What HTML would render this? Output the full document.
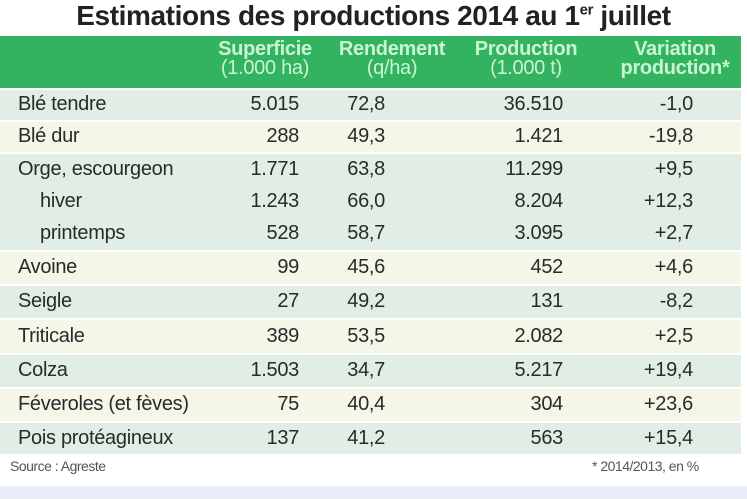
<!DOCTYPE html>
<html><head><meta charset="utf-8"><style>
body{margin:0;width:747px;height:499px;background:#fff;position:relative;overflow:hidden;font-family:"Liberation Sans",sans-serif;color:#2a2a2a}
.t{position:absolute;left:0;top:0px;width:747px;text-align:center;font-weight:bold;font-size:28px;letter-spacing:-0.4px;color:#222}
.hd{position:absolute;left:0;top:36px;width:741px;height:52px;background:#33b25f}
.h{position:absolute;text-align:center;color:#c9f5d4;font-size:20px;line-height:19px;letter-spacing:-0.3px}
.h b{display:block}
.row{position:absolute;left:0;width:741px}
.c{position:absolute;font-size:20px;letter-spacing:-0.3px;white-space:nowrap}
.r{text-align:right}
.foot{position:absolute;font-size:14px;color:#555;letter-spacing:-0.5px}
</style></head><body>
<div class="t">Estimations des productions 2014 au 1<sup style="font-size:15px">er</sup> juillet</div>
<div class="hd">
<div class="h" style="left:200px;width:130px;top:4px"><b>Superficie</b>(1.000 ha)</div>
<div class="h" style="left:322px;width:140px;top:4px"><b>Rendement</b>(q/ha)</div>
<div class="h" style="left:458px;width:136px;top:4px"><b>Production</b>(1.000 t)</div>
<div class="h" style="left:610px;width:130px;top:4px"><b>Variation</b><b>production*</b></div>
</div>
<div id="rows"></div>
<div class="foot" style="left:10px;top:458px">Source : Agreste</div>
<div class="foot" style="left:592px;top:458px">* 2014/2013, en %</div>
<div style="position:absolute;left:0;top:486px;width:747px;height:13px;background:#e9ebf7"></div>
<script>
const labels=["Blé tendre","Blé dur","Orge, escourgeon","hiver","printemps","Avoine","Seigle","Triticale","Colza","Féveroles (et fèves)","Pois protéagineux"];
const superficie=["5.015","288","1.771","1.243","528","99","27","389","1.503","75","137"];
const rendement=["72,8","49,3","63,8","66,0","58,7","45,6","49,2","53,5","34,7","40,4","41,2"];
const production=["36.510","1.421","11.299","8.204","3.095","452","131","2.082","5.217","304","563"];
const variation=["-1,0","-19,8","+9,5","+12,3","+2,7","+4,6","-8,2","+2,5","+19,4","+23,6","+15,4"];
const tops=[90,122,154,186,218,252,286,320,355,389,423];
const hts=[30,30,32,32,32,32,32,33,32,32,31];
const colors=["#e1eee5","#f4f6e8","#e1eee5","#e1eee5","#e1eee5","#f4f6e8","#e1eee5","#f4f6e8","#e1eee5","#f4f6e8","#e1eee5"];
const host=document.getElementById('rows');
labels.forEach((l,i)=>{
 const r=document.createElement('div');
 r.className='row';
 
 
 r.style.top=tops[i]+'px';r.style.height=hts[i]+'px';r.style.background=colors[i];
 const ty=(hts[i]-24)/2;
 const indent=(i==3||i==4)?40:18;
 r.innerHTML=`<div class="c" style="left:${indent}px;top:${ty}px">${l}</div>
<div class="c r" style="right:${741-299}px;top:${ty}px">${superficie[i]}</div>
<div class="c r" style="right:${741-385}px;top:${ty}px">${rendement[i]}</div>
<div class="c r" style="right:${741-563}px;top:${ty}px">${production[i]}</div>
<div class="c r" style="right:${741-693}px;top:${ty}px">${variation[i]}</div>`;
 host.appendChild(r);
});
</script>
</body></html>
